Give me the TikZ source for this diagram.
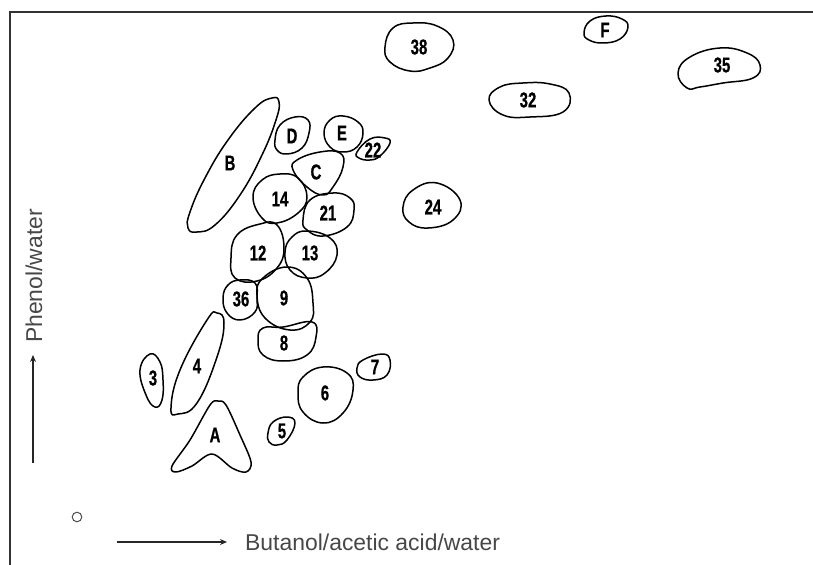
\documentclass[tikz,border=0pt]{standalone}
\usepackage{fontspec}
\setmainfont{Liberation Sans}
\newfontfamily\lblfont[FakeStretch=0.7,FakeBold=0.6]{Liberation Sans}
\newfontfamily\axfont{Liberation Sans}
\usetikzlibrary{arrows.meta}
\tikzset{
  blob/.style={draw=black, line width=1.5bp, line join=round},
  lbl/.style={font=\lblfont\bfseries\fontsize{21.5}{21.5}\selectfont, inner sep=0pt, text=black},
  axtext/.style={font=\axfont\fontsize{23}{23}\selectfont, inner sep=0pt, text=black!72},
  axarrow/.style={draw=black!85, line width=1.2bp, -{Stealth[length=7bp,width=6bp]}},
  frame/.style={draw=black!80, line width=1.6bp}
}
\begin{document}
\begin{tikzpicture}[x=1bp,y=-1bp]
\useasboundingbox (0,0) rectangle (813,565);
% frame
\coordinate (fbl) at (10,565);
\coordinate (ftl) at (10,12);
\coordinate (ftr) at (813,12);
\draw[frame] (fbl) -- (ftl) -- (ftr);

% blobs
\def\blobplot#1{\draw[blob] plot[smooth cycle, tension=0.75] coordinates {#1};}
\blobplot{(385,47) (393,28) (413,23) (437,26) (453,40) (448,58) (430,68) (410,71) (390,62)} % 38
\blobplot{(584,33) (590,21) (606,16) (622,19) (628,27) (620,39) (603,43) (589,40)} % F
\blobplot{(678,73) (690,57) (720,48) (747,53) (760,65) (753,78) (723,83) (700,87) (687,88)} % 35
\blobplot{(489,100) (500,87) (523,83) (550,84) (569,93) (563,112) (530,117) (503,115)} % 32
\blobplot{(403,207) (413,190) (437,183) (460,200) (453,220) (428,228) (409,222)} % 24
\blobplot{(357,152) (370,139) (385,138) (390,143) (380,156) (370,160) (359,158)} % 22
\blobplot{(324,133) (330,120) (343,116) (358,122) (363,133) (357,147) (343,152) (330,147)} % E
\blobplot{(275,140) (280,125) (295,117) (308,120) (309,133) (302,148) (287,154) (277,150)} % D
\blobplot{(272,98) (279,102) (276,120) (262,155) (240,195) (215,225) (197,232) (188,228) (190,212) (205,178) (228,140) (255,108)} % B
\blobplot{(297,160) (320,152) (340,153) (343,167) (333,187) (323,195) (307,187) (293,170)} % C
\blobplot{(253,197) (262,180) (280,174) (298,178) (307,197) (298,213) (277,223) (262,218)} % 14
\blobplot{(303,220) (310,200) (333,193) (350,198) (354,210) (347,227) (323,236) (307,230)} % 21
\blobplot{(231,258) (237,235) (260,224) (277,225) (284,248) (277,268) (257,281) (235,278)} % 12
\blobplot{(285,252) (292,237) (307,231) (330,238) (337,255) (325,273) (307,278) (290,270)} % 13
\blobplot{(223,298) (228,285) (240,280) (255,283) (257,298) (255,312) (240,320) (227,313)} % 36
\blobplot{(257,295) (263,278) (287,267) (307,278) (313,303) (310,322) (290,330) (265,318)} % 9
\blobplot{(258,340) (263,328) (283,327) (312,322) (316,337) (307,355) (283,361) (263,355)} % 8
\blobplot{(140,370) (150,354) (160,362) (163,380) (162,400) (155,407) (146,395)} % 3
\blobplot{(217,313) (224,323) (217,357) (197,403) (178,414) (171,408) (180,370) (207,320)} % 4
\draw[blob] plot[smooth cycle, tension=0.55] coordinates {(218,401) (226,405) (240,435) (251,462) (246,472) (232,468) (212,454) (192,466) (176,472) (172,466) (190,440) (210,405)}; % A
\blobplot{(268,433) (273,422) (287,417) (295,423) (287,440) (277,445) (269,442)} % 5
\blobplot{(298,393) (303,377) (323,367) (347,373) (353,390) (343,413) (323,423) (303,412)} % 6
\blobplot{(357,368) (363,360) (382,354) (390,360) (387,375) (373,380) (360,377)} % 7

% labels
\node[lbl] (l38) at (419,47) {38};
\node[lbl] (lF) at (605,30) {F};
\node[lbl] (l35) at (722,65) {35};
\node[lbl] (l32) at (528,100) {32};
\node[lbl] (l24) at (433,207) {24};
\node[lbl] (l22) at (373,150) {22};
\node[lbl] (lE) at (342,133) {E};
\node[lbl] (lD) at (292,136) {D};
\node[lbl] (lB) at (230,163) {B};
\node[lbl] (lC) at (316,172) {C};
\node[lbl] (l14) at (280,199) {14};
\node[lbl] (l21) at (328,213) {21};
\node[lbl] (l12) at (258,253) {12};
\node[lbl] (l13) at (310,253) {13};
\node[lbl] (l36) at (241,299) {36};
\node[lbl] (l9) at (284,298) {9};
\node[lbl] (l8) at (284,343) {8};
\node[lbl] (l3) at (153,378) {3};
\node[lbl] (l4) at (197,366) {4};
\node[lbl] (lA) at (215,435) {A};
\node[lbl] (l5) at (282,431) {5};
\node[lbl] (l6) at (325,393) {6};
\node[lbl] (l7) at (375,367) {7};

% origin and axes
\draw[draw=black!70, line width=1bp] (77,517) circle[radius=4.8];
\coordinate (hs) at (117,542);
\coordinate (he) at (227,542);
\draw[axarrow] (hs) -- (he);
\node[axtext, anchor=base west] (xlab) at (245,550) {Butanol/acetic acid/water};
\coordinate (vs) at (33,463);
\coordinate (ve) at (33,355);
\draw[axarrow] (vs) -- (ve);
\node[axtext, anchor=base, rotate=90] (ylab) at (42,276) {Phenol/water};
\end{tikzpicture}
\end{document}
